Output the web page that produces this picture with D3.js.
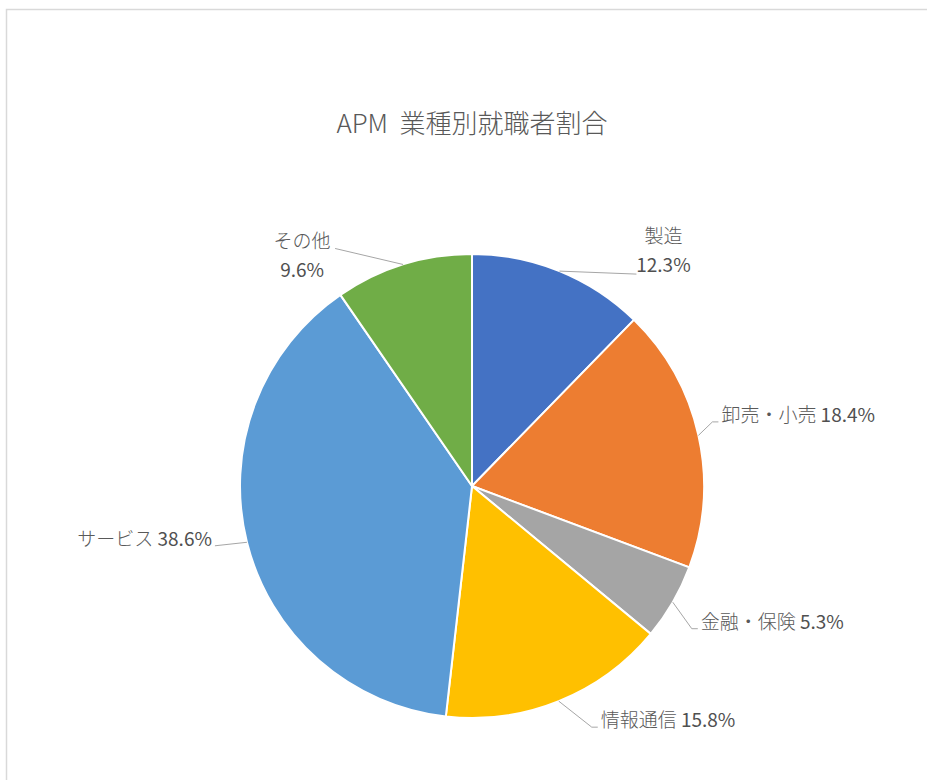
<!DOCTYPE html>
<html>
<head>
<meta charset="utf-8">
<script src="https://cdn.jsdelivr.net/npm/d3@7"></script>
<style>
    body { margin: 0; background: #fff; }
    text { font-family: "Noto Sans CJK JP", "Noto Sans", sans-serif; fill: #595959; font-weight: 300; }
    .chart-title { font-size: 26px; text-anchor: middle; }
    .slice-label { font-size: 19px; }
    .slice-value { font-weight: 400; fill: #505050; }
    .leader { fill: none; stroke: #a6a6a6; stroke-width: 1; }
</style>
</head>
<body>
<div class="mainview"></div>
<script>

const categories = ["製造", "卸売・小売", "金融・保険", "情報通信", "サービス", "その他"];
const shares = [12.3, 18.4, 5.3, 15.8, 38.6, 9.6];
const colors = ["#4472c4", "#ed7d31", "#a5a5a5", "#ffc000", "#5b9bd5", "#70ad47"];
const title = "APM  業種別就職者割合";

const dim = { width: 927, height: 780 };
const pieCenter = { x: 472, y: 486 };
const radius = 232;

// label placement relative to the outer point of each slice's mid angle
// (hand tuned to follow the Excel "best fit" placement)
const labelLayout = {
    "製造":       { wrap: true,  anchor: "middle", dx: 104, dy: -28, leader: [[0, 0], [77, 3]] },
    "卸売・小売": { wrap: false, anchor: "start",  dx: 23,  dy: -13, leader: [[0, 0], [14, -13.5], [20, -13.5]] },
    "金融・保険": { wrap: false, anchor: "start",  dx: 28,  dy: 27,  leader: [[0, 0], [19, 26.5], [25, 26.5]] },
    "情報通信":   { wrap: false, anchor: "start",  dx: 42,  dy: 26,  leader: [[0, 0], [33, 26], [39, 26]] },
    "サービス":   { wrap: false, anchor: "end",    dx: -35, dy: 4,   leader: [[0, 0], [-32, 3.5]] },
    "その他":     { wrap: true,  anchor: "middle", dx: -101, dy: -16, leader: [[0, 0], [-68, -16]] }
};

const data = categories.map((c, i) => ({ name: c, value: shares[i], color: colors[i] }));

const svg = d3.select(".mainview").append("svg")
    .attr("width", dim.width)
    .attr("height", dim.height)
    .attr("viewBox", [0, 0, dim.width, dim.height]);

svg.append("rect")
    .attr("width", dim.width).attr("height", dim.height)
    .style("fill", "white");

// chart area frame, runs off the right and bottom edges
svg.append("rect")
    .attr("x", 6.5).attr("y", 9.5)
    .attr("width", dim.width + 20).attr("height", dim.height + 20)
    .style("fill", "none")
    .style("stroke", "#d9d9d9")
    .style("stroke-width", 1.5);

svg.append("text")
    .attr("class", "chart-title")
    .attr("x", pieCenter.x)
    .attr("y", 133)
    .attr("xml:space", "preserve")
    .style("white-space", "pre")
    .text(title);

const pie = d3.pie()
    .sort(null)
    .value(d => d.value);

const arcs = pie(data);

const arc = d3.arc()
    .innerRadius(0)
    .outerRadius(radius);

const g = svg.append("g")
    .attr("transform", `translate(${ pieCenter.x }, ${ pieCenter.y })`);

g.selectAll("path.slice")
    .data(arcs)
    .join("path")
    .attr("class", "slice")
    .attr("d", arc)
    .style("fill", d => d.data.color)
    .style("stroke", "#fff")
    .style("stroke-width", 2);

// labels ////////////////////////////////////

const pct = v => d3.format(".1f")(v) + "%";

arcs.forEach(d => {
    const mid = (d.startAngle + d.endAngle) / 2;
    const ox = Math.sin(mid) * radius;
    const oy = -Math.cos(mid) * radius;
    const lay = labelLayout[d.data.name];

    g.append("path")
        .attr("class", "leader")
        .attr("d", d3.line()(lay.leader.map(p => [ox + p[0], oy + p[1]])));

    const t = g.append("text")
        .attr("class", "slice-label")
        .attr("text-anchor", lay.anchor)
        .attr("x", ox + lay.dx)
        .attr("y", oy + lay.dy);

    if (lay.wrap) {
        t.append("tspan").text(d.data.name);
        t.append("tspan")
            .attr("class", "slice-value")
            .attr("x", ox + lay.dx)
            .attr("dy", 29)
            .text(pct(d.data.value));
    } else {
        t.append("tspan").text(`${ d.data.name } `);
        t.append("tspan")
            .attr("class", "slice-value")
            .text(pct(d.data.value));
    }
});

</script>
</body>
</html>
